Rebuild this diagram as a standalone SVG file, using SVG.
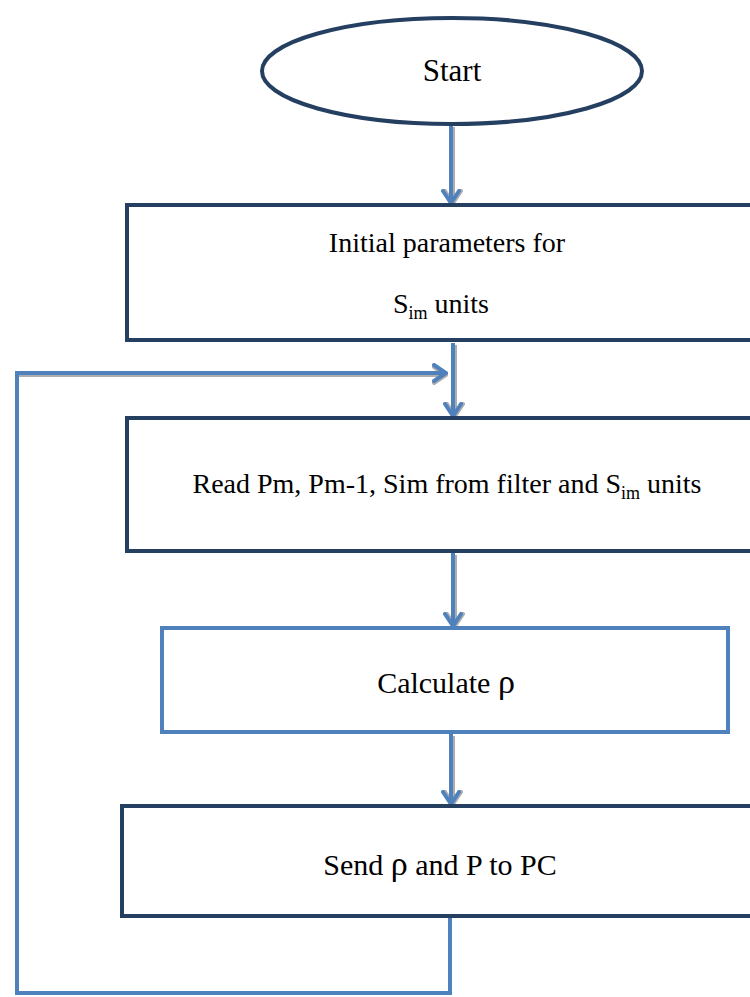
<svg xmlns="http://www.w3.org/2000/svg" width="750" height="997" viewBox="0 0 750 997">
<defs>
<style>
.node{fill:#fff;stroke:#243F60;stroke-width:4}
.node2{fill:#fff;stroke:#4F81BD;stroke-width:4}
.t{font-family:"Liberation Serif","DejaVu Serif",serif;fill:#000;text-anchor:middle}
.c{fill:none;stroke:#4F81BD;stroke-width:4;stroke-linejoin:miter}
.sh{fill:none;stroke:#9a9a9a;stroke-width:4;opacity:0.8}
</style>
<marker id="ah" viewBox="0 0 16 20" refX="14" refY="10" markerWidth="16" markerHeight="20" markerUnits="userSpaceOnUse" orient="auto">
<path d="M2,2 L14,10 L2,18" fill="none" stroke="#4F81BD" stroke-width="4" stroke-linecap="round"/>
</marker>
<marker id="ahs" viewBox="0 0 16 20" refX="14" refY="10" markerWidth="16" markerHeight="20" markerUnits="userSpaceOnUse" orient="auto">
<path d="M2,2 L14,10 L2,18" fill="none" stroke="#9a9a9a" stroke-width="4" stroke-linecap="round"/>
</marker>
</defs>
<rect width="750" height="997" fill="#fff"/>
<g id="connectors">
<path class="sh" d="M453,127 V203" marker-end="url(#ahs)"/>
<path class="c" d="M451,125 V203" marker-end="url(#ah)"/>
<path class="sh" d="M455,345 V416" marker-end="url(#ahs)"/>
<path class="c" d="M453,343 V416" marker-end="url(#ah)"/>
<path class="sh" d="M455,555 V626" marker-end="url(#ahs)"/>
<path class="c" d="M453,553 V626" marker-end="url(#ah)"/>
<path class="sh" d="M453,736 V804" marker-end="url(#ahs)"/>
<path class="c" d="M451,734 V804" marker-end="url(#ah)"/>
<path class="sh" d="M19,375 H446" marker-end="url(#ahs)"/>
<path class="c" d="M450,918 V993 H17 V373 H446" marker-end="url(#ah)"/>
</g>
<g id="start">
<ellipse class="node" cx="452" cy="71" rx="190" ry="53"/>
<text class="t" x="452" y="81" font-size="31">Start</text>
</g>
<g id="init">
<rect class="node" x="127" y="205" width="630" height="135"/>
<text class="t" x="447" y="252" font-size="28">Initial parameters for</text>
<text class="t" x="441" y="313" font-size="28">S<tspan font-size="18" dy="6">im</tspan><tspan dy="-6"> units</tspan></text>
</g>
<g id="read">
<rect class="node" x="127" y="418" width="630" height="133"/>
<text class="t" x="447" y="493" font-size="28">Read Pm, Pm-1, Sim from filter and S<tspan font-size="18" dy="6">im</tspan><tspan dy="-6"> units</tspan></text>
</g>
<g id="calc">
<rect class="node2" x="162" y="628" width="566" height="104"/>
<text class="t" x="446" y="693" font-size="30">Calculate <tspan font-size="34">ρ</tspan></text>
</g>
<g id="send">
<rect class="node" x="122" y="806" width="635" height="110"/>
<text class="t" x="440" y="875" font-size="30">Send <tspan font-size="34">ρ</tspan> and P to PC</text>
</g>
</svg>
